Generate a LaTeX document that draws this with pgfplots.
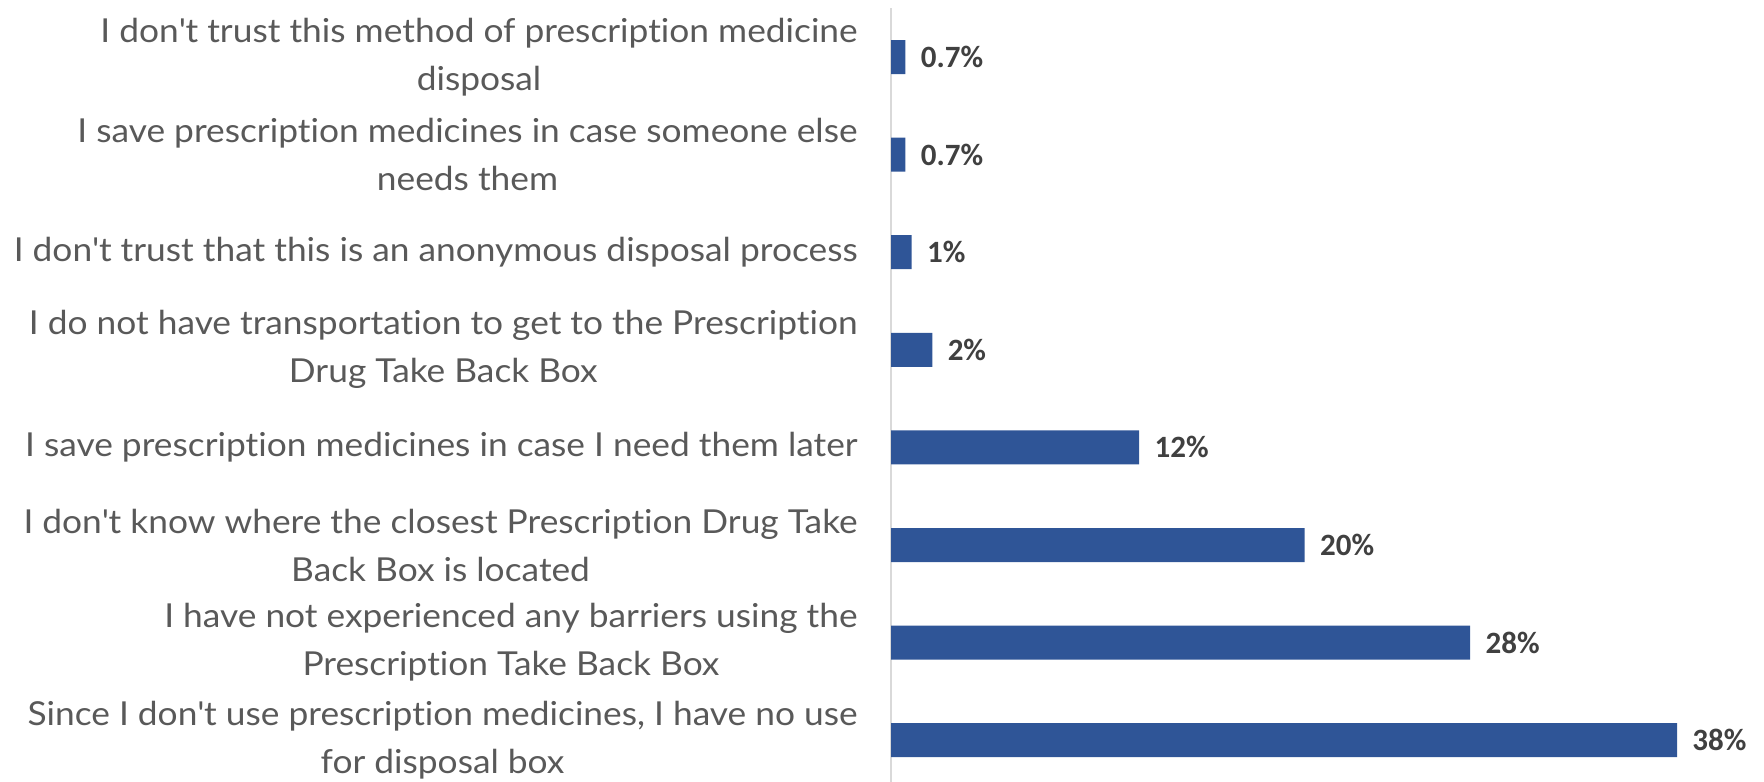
\documentclass[border=0pt]{standalone}
\usepackage{pgfplots}
\pgfplotsset{compat=1.18}
\usepackage{fontspec}
\setmainfont{Lato}[FakeStretch=1.07, Ligatures={NoCommon}]
\newfontfamily\labelfont{Carlito}
\newcommand{\q}{\textquotesingle}
\definecolor{barblue}{HTML}{2F5597}
\definecolor{catgray}{HTML}{595959}
\definecolor{lblgray}{HTML}{404040}
\definecolor{axgray}{HTML}{D9D9D9}
\begin{document}
\begin{tikzpicture}
\path[use as bounding box] (0,0) rectangle (882pt,390.5pt);
\begin{axis}[
  at={(445.5pt,-4pt)}, anchor=south west,
  scale only axis, width=393pt, height=390.4pt,
  xmin=0, xmax=38, ymin=0.5, ymax=8.5, y dir=reverse,
  xbar, bar width=17pt,
  axis x line=none, axis y line*=left,
  y axis line style={draw=axgray, line width=0.8pt},
  ytick={1,...,8}, major tick length=0,
  yticklabels={
    {I don\q t trust this method of prescription medicine\\disposal},
    {I save prescription medicines in case someone else\\needs them},
    {I don\q t trust that this is an anonymous disposal process},
    {I do not have transportation to get to the Prescription\\Drug Take Back Box},
    {I save prescription medicines in case I need them later},
    {I don\q t know where the closest Prescription Drug Take\\Back Box is located},
    {I have not experienced any barriers using the\\Prescription Take Back Box},
    {Since I don\q t use prescription medicines, I have no use\\for disposal box}
  },
  yticklabel style={align=center, font=\fontsize{16.5}{24}\selectfont, text=catgray, inner sep=0pt, xshift=-16.5pt},
  nodes near coords, point meta=explicit symbolic,
  nodes near coords style={anchor=west, inner sep=0pt, xshift=7.5pt, font=\labelfont\bfseries\fontsize{15.5}{18}\selectfont, text=lblgray},
  clip=false,
]
\addplot[fill=barblue, draw=none] table[x=x, y=y, meta=label] {
x y label
0.7 1 0.7\%
0.7 2 0.7\%
1 3 1\%
2 4 2\%
12 5 12\%
20 6 20\%
28 7 28\%
38 8 38\%
};
\end{axis}
\end{tikzpicture}
\end{document}
